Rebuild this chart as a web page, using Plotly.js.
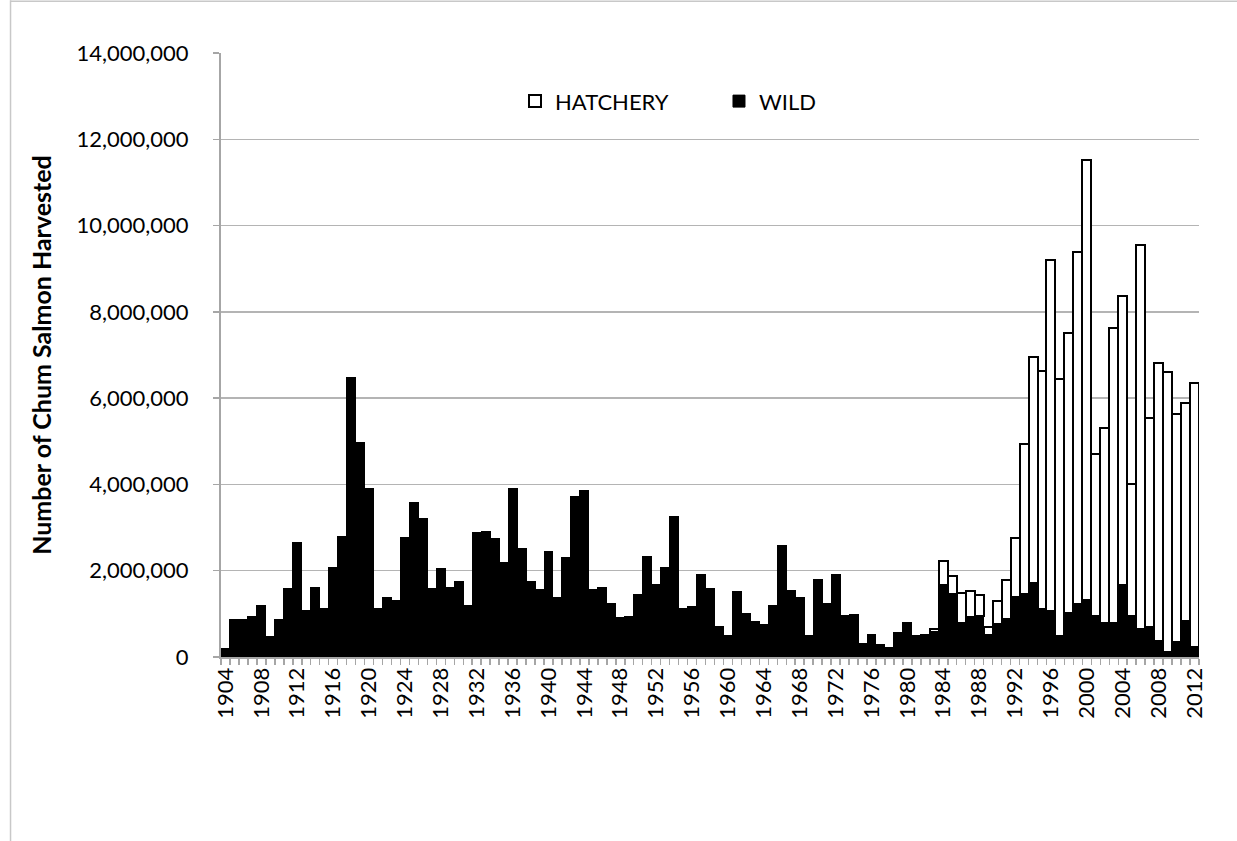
<!DOCTYPE html>
<html>
<head>
<meta charset="utf-8">
<script src="https://cdn.plot.ly/plotly-3.0.1.min.js"></script>
<style>
  html, body { margin: 0; padding: 0; background: #ffffff; }
  #chart { width: 1237px; height: 841px; }
</style>
</head>
<body>
<div id="chart"></div>
<script>
// Years 1904–2012 (one bar per year)
const firstYear = 1904;
const lastYear = 2012;
const years = [];
for (let y = firstYear; y <= lastYear; y++) years.push(y);

// Wild chum salmon harvest, 1904–2012
const wild = [
  200000, 880000, 880000, 930000, 1200000, 470000, 880000, 1590000, 2660000, 1070000,
  1610000, 1130000, 2080000, 2790000, 6470000, 4970000, 3900000, 1130000, 1380000, 1320000,
  2760000, 3580000, 3200000, 1590000, 2050000, 1610000, 1760000, 1200000, 2890000, 2910000,
  2750000, 2190000, 3900000, 2520000, 1760000, 1570000, 2450000, 1380000, 2300000, 3730000,
  3850000, 1560000, 1620000, 1240000, 920000, 950000, 1450000, 2320000, 1680000, 2070000,
  3250000, 1130000, 1160000, 1920000, 1590000, 700000, 500000, 1510000, 1010000, 830000,
  760000, 1200000, 2580000, 1530000, 1380000, 490000, 1800000, 1240000, 1920000, 970000,
  990000, 320000, 530000, 300000, 220000, 560000, 810000, 500000, 470000, 590000,
  1670000, 1450000, 780000, 930000, 960000, 510000, 760000, 880000, 1380000, 1460000,
  1720000, 1120000, 1060000, 480000, 1020000, 1230000, 1310000, 940000, 790000, 790000,
  1660000, 940000, 660000, 700000, 380000, 120000, 350000, 840000, 230000
];

// Hatchery chum salmon harvest, from 1982 to 2012
const hatcheryFirstYear = 1982;
const hatcheryValues = [
  50000, 60000, 560000, 430000, 710000, 600000, 470000, 180000, 540000, 900000,
  1370000, 3480000, 5240000, 5500000, 8140000, 5970000, 6500000, 8150000, 10210000, 3770000,
  4510000, 6830000, 6700000, 3080000, 8880000, 4840000, 6440000, 6490000, 5280000, 5040000,
  6120000
];

// Tick labels every four years
const tickYears = [1904, 1908, 1912, 1916, 1920, 1924, 1928, 1932, 1936, 1940, 1944, 1948,
  1952, 1956, 1960, 1964, 1968, 1972, 1976, 1980, 1984, 1988, 1992, 1996, 2000, 2004, 2008, 2012];
const tickLabels = tickYears.map(String);

const seriesNames = { hatchery: 'HATCHERY', wild: 'WILD' };

// Align hatchery values with the year list (no hatchery before 1982)
const hatchery = years.map(y => y >= hatcheryFirstYear ? hatcheryValues[y - hatcheryFirstYear] : null);

const FONT = 'Lato, "Open Sans", "Liberation Sans", Arial, sans-serif';
const AXIS_GRAY = '#a6a6a6';
const GRID_GRAY = '#b4b4b4';

const traces = [
  {
    type: 'bar',
    name: seriesNames.wild,
    x: years,
    y: wild,
    width: 1,
    marker: { color: '#000000', line: { color: '#000000', width: 1 } },
    hoverinfo: 'x+y+name'
  },
  {
    type: 'bar',
    name: seriesNames.hatchery,
    x: years,
    y: hatchery,
    width: 1,
    marker: { color: '#ffffff', line: { color: '#000000', width: 2 } },
    hoverinfo: 'x+y+name'
  }
];

const layout = {
  width: 1237,
  height: 841,
  margin: { l: 221, r: 38, t: 53, b: 184 },
  paper_bgcolor: '#ffffff',
  plot_bgcolor: '#ffffff',
  font: { family: FONT, size: 22, color: '#000000' },
  barmode: 'stack',
  bargap: 0,
  showlegend: true,
  legend: {
    orientation: 'h',
    traceorder: 'reversed',
    x: 0.3006,
    xanchor: 'left',
    y: 0.92,
    yanchor: 'middle',
    entrywidth: 159,
    entrywidthmode: 'pixels',
    font: { family: FONT, size: 22, color: '#000000' },
    bgcolor: 'rgba(0,0,0,0)'
  },
  xaxis: {
    type: 'linear',
    range: [firstYear - 0.5, lastYear + 0.5],
    tickmode: 'array',
    tickvals: tickYears,
    ticktext: tickLabels,
    tickangle: -90,
    ticks: '',
    showgrid: false,
    zeroline: false,
    showline: true,
    linecolor: AXIS_GRAY,
    linewidth: 2,
    tickfont: { family: FONT, size: 22, color: '#000000' },
    minor: {
      ticks: 'outside',
      tick0: firstYear - 0.5,
      dtick: 1,
      ticklen: 6,
      tickwidth: 1.5,
      tickcolor: AXIS_GRAY,
      showgrid: false
    }
  },
  yaxis: {
    range: [0, 14000000],
    tickmode: 'linear',
    tick0: 0,
    dtick: 2000000,
    tickformat: ',d',
    showgrid: true,
    gridcolor: GRID_GRAY,
    gridwidth: 1.5,
    zeroline: false,
    showline: true,
    linecolor: AXIS_GRAY,
    linewidth: 2,
    ticks: 'outside',
    ticklen: 6,
    tickwidth: 1.5,
    tickcolor: AXIS_GRAY,
    ticklabelstandoff: 20,
    tickfont: { family: FONT, size: 22, color: '#000000' },
    title: {
      text: 'Number of Chum Salmon Harvested',
      font: { family: FONT, size: 25, color: '#000000', weight: 'bold' },
      standoff: 18
    }
  },
  shapes: [
    { type: 'line', xref: 'paper', yref: 'paper', x0: -0.2152, x1: -0.2152, y0: -0.3045, y1: 1.0872,
      line: { color: '#c8c8c8', width: 1.5 } },
    { type: 'line', xref: 'paper', yref: 'paper', x0: -0.2152, x1: 1.0389, y0: 1.0855, y1: 1.0855,
      line: { color: '#c8c8c8', width: 1.5 } }
  ]
};

Plotly.newPlot('chart', traces, layout, { displayModeBar: false, staticPlot: true });
</script>
</body>
</html>
